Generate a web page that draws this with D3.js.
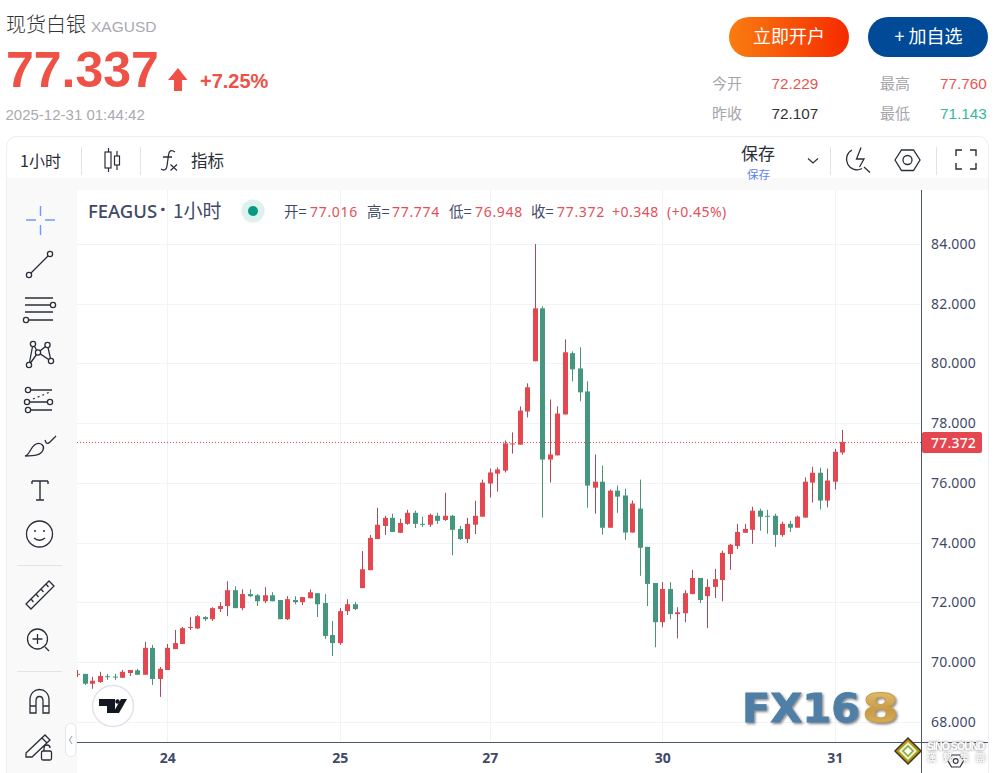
<!DOCTYPE html>
<html><head><meta charset="utf-8">
<script src="https://cdn.jsdelivr.net/npm/d3@7/dist/d3.min.js"></script>
<style>html,body{margin:0;padding:0;background:#fff;overflow:hidden}svg{display:block}
text{font-family:"Liberation Sans","Noto Sans CJK SC",sans-serif}</style></head><body>
<svg id="c" width="995" height="773"></svg>
<script>
const opens=[69.59,69.61,69.28,69.34,69.53,69.52,69.48,69.64,69.73,69.58,70.48,69.44,69.74,70.44,70.61,71.15,71.13,71.51,71.44,71.78,71.88,72.41,71.81,72.28,72.24,72.04,72.24,72.08,71.44,72.08,72.01,72.14,72.31,71.98,70.91,70.64,71.71,71.94,72.48,73.08,74.12,74.56,74.83,74.33,74.63,75.0,74.63,74.6,74.9,74.76,74.9,74.46,74.12,74.6,74.87,75.98,76.31,76.41,77.30,77.28,78.39,80.07,81.84,76.78,76.92,78.29,80.34,79.83,79.06,75.84,76.04,74.5,75.74,75.58,74.34,75.14,73.86,72.65,71.34,72.45,71.61,71.64,72.28,72.82,72.21,72.52,72.75,73.62,73.89,74.33,74.43,75.07,74.9,74.9,74.26,74.63,74.5,74.84,76.01,76.34,75.41,76.04,77.016];
const highs=[69.74,69.61,69.51,69.68,69.61,69.61,69.74,69.74,69.78,70.68,70.58,69.84,70.61,71.08,71.18,71.51,71.58,71.54,71.84,72.01,72.71,72.54,72.44,72.44,72.28,72.51,72.34,72.08,72.21,72.21,72.18,72.44,72.31,72.28,71.38,71.81,72.11,72.01,73.72,74.26,75.17,74.9,74.97,74.8,75.1,75.07,74.87,74.97,75.0,75.67,74.93,74.56,74.83,75.4,76.11,76.48,76.52,77.42,77.69,78.56,79.33,83.99,81.91,78.79,78.56,80.8,80.4,80.54,79.4,76.95,76.58,75.78,75.91,75.81,75.41,76.11,73.86,72.65,72.68,72.68,71.84,72.41,73.09,72.82,72.78,73.12,73.73,73.96,74.63,74.63,75.2,75.14,75.1,74.97,74.7,74.73,74.9,76.18,76.54,76.51,76.48,77.14,77.774];
const lows=[69.5,69.24,69.11,69.31,69.41,69.41,69.48,69.54,69.58,69.58,69.24,68.84,69.74,70.44,70.61,71.08,71.11,71.38,71.38,71.68,71.54,71.81,71.74,72.18,71.88,71.98,72.04,71.44,71.41,71.94,71.91,72.14,71.51,70.78,70.21,70.58,71.58,71.74,72.48,73.08,74.12,74.26,74.36,74.33,74.6,74.49,74.53,74.53,74.63,74.73,73.58,74.09,73.99,74.29,74.87,75.51,75.71,76.35,76.98,77.28,78.19,80.07,74.84,76.01,76.92,78.29,79.4,78.73,75.17,74.97,74.27,74.5,75.0,74.1,74.34,72.89,71.88,70.5,71.17,71.44,70.8,71.34,72.28,71.98,71.14,72.15,72.04,73.09,73.79,74.33,73.96,74.4,74.3,73.86,74.2,74.36,74.5,74.84,75.34,75.11,75.18,75.78,76.948];
const closes=[69.61,69.28,69.38,69.54,69.51,69.5,69.68,69.74,69.58,70.48,69.44,69.78,70.48,70.64,71.14,71.18,71.54,71.44,71.81,71.88,72.41,71.81,72.28,72.21,72.04,72.24,72.04,71.44,72.11,72.01,72.18,72.34,71.94,70.88,70.64,71.71,71.94,71.78,73.11,74.16,74.6,74.83,74.36,74.66,75.0,74.63,74.6,74.93,74.73,74.9,74.43,74.12,74.63,74.9,76.01,76.35,76.45,77.32,77.32,78.42,79.2,81.84,76.78,76.95,78.32,80.37,79.8,79.03,75.91,76.04,74.5,75.74,75.54,74.34,75.31,73.83,72.62,71.34,72.45,71.61,71.67,72.31,72.82,72.08,72.52,72.78,73.66,73.93,74.36,74.46,75.07,74.87,74.87,74.26,74.63,74.5,74.87,76.04,76.34,75.41,76.08,77.04,77.372];
const priceTicks=[68,70,72,74,76,78,80,82,84];
const dateTickIndex=[12,35,55,78,101];
const dateTickLabels=["24","25","27","30","31"];
const lastPrice=77.372;
const legendPairs=[["开=","77.016",284,310],["高=","77.774",367,392],["低=","76.948",449,475],["收=","77.372",531,557]];
const statRows=[["今开","72.229","#ea5550","最高","77.760","#ea5550"],["昨收","72.107","#333333","最低","71.143","#35b89b"]];

const svg=d3.select("#c");
const CJK='"Noto Sans CJK SC",sans-serif', NS='"Noto Sans","Noto Sans CJK SC",sans-serif';
const RED="#e4474f",GRN="#45967f",RW="#ab4c58",GW="#4c9470",INK="#2a2e39",SLATE="#3f4a68";
function T(x,y,s,size,fill,o={}){const t=svg.append("text").attr("x",x).attr("y",y).attr("font-size",size).attr("fill",fill).text(s);
 if(o.font)t.style("font-family",o.font);if(o.weight)t.attr("font-weight",o.weight);if(o.anchor)t.attr("text-anchor",o.anchor);if(o.ls)t.attr("letter-spacing",o.ls);return t;}
function P(d,stroke=INK,sw=1.3,fill="none"){return svg.append("path").attr("d",d).attr("stroke",stroke).attr("stroke-width",sw).attr("fill",fill);}
function C(x,y,r,stroke=INK,sw=1.3,fill="#fff"){return svg.append("circle").attr("cx",x).attr("cy",y).attr("r",r).attr("stroke",stroke).attr("stroke-width",sw).attr("fill",fill);}
const defs=svg.append("defs");
const g1=defs.append("linearGradient").attr("id","ob");g1.append("stop").attr("offset",0).attr("stop-color","#f97d10");g1.append("stop").attr("offset",1).attr("stop-color","#f62a00");
const g2=defs.append("linearGradient").attr("id","au").attr("x1",0).attr("x2",0).attr("y1",0).attr("y2",1);
g2.append("stop").attr("offset",0).attr("stop-color","#e6c77c");g2.append("stop").attr("offset",.55).attr("stop-color","#c89a45");g2.append("stop").attr("offset",1).attr("stop-color","#dcb868");
defs.append("filter").attr("id","sh").append("feDropShadow").attr("dx",1.5).attr("dy",1.5).attr("stdDeviation",1.2).attr("flood-color","#333").attr("flood-opacity",.6);
defs.append("filter").attr("id","sg").append("feDropShadow").attr("dx",0).attr("dy",0).attr("stdDeviation",1.6).attr("flood-color","#666").attr("flood-opacity",1);
defs.append("clipPath").attr("id","pane").append("rect").attr("x",77).attr("y",190).attr("width",844).attr("height",552);

// header
T(6,32,"现货白银",20,"#333",{font:CJK,weight:300});
T(91,32,"XAGUSD",15.5,"#a9a9b0");
T(6,87,"77.337",50,"#ee5145",{weight:700});
P("M178 68L187.5 80H182V91H174V80H168Z","none",0,"#ee5145");
T(200,88,"+7.25%",20,"#ee5145",{weight:700});
T(5.5,120,"2025-12-31 01:44:42",15,"#aaaab0");
svg.append("rect").attr("x",729).attr("y",17).attr("width",120).attr("height",40).attr("rx",20).attr("fill","url(#ob)");
T(789,43,"立即开户",18,"#fff",{font:CJK,anchor:"middle"});
svg.append("rect").attr("x",868).attr("y",17).attr("width",120).attr("height",40).attr("rx",20).attr("fill","#004a97");
T(928.5,43,"+ 加自选",18,"#fff",{font:CJK,anchor:"middle"});
statRows.forEach((r,i)=>{const y=89+i*30;
 T(712,y,r[0],15,"#a5a5ab",{font:CJK});T(771.5,y,r[1],15.3,r[2]);
 T(880,y,r[3],15,"#a5a5ab",{font:CJK});T(940,y,r[4],15.3,r[5]);});

// frame + top toolbar
svg.append("rect").attr("x",6.5).attr("y",136.5).attr("width",982).attr("height",660).attr("rx",10).attr("fill","#fff").attr("stroke","#eceef2");
svg.append("rect").attr("x",7).attr("y",178).attr("width",981).attr("height",12).attr("fill","#f9f9fa");
svg.append("rect").attr("x",7).attr("y",178).attr("width",70).attr("height",595).attr("fill","#f9f9fa");
T(20,167,"1小时",16,INK,{font:CJK});
[81,140,830,936].forEach(x=>svg.append("line").attr("x1",x+.5).attr("x2",x+.5).attr("y1",147).attr("y2",175).attr("stroke","#e0e3eb"));
P("M108.5 148V172M117 151V170",INK,1.2);
svg.append("rect").attr("x",105).attr("y",152).attr("width",6).attr("height",16).attr("fill","#fff").attr("stroke",INK).attr("stroke-width",1.2);
svg.append("rect").attr("x",114.5).attr("y",156).attr("width",5).attr("height",9).attr("fill","#fff").attr("stroke",INK).attr("stroke-width",1.2);
P("M175 152C171 149 169 151 168.5 155L167 166C166.5 170 164 171 161 169M163 157H172",INK,1.3);
P("M170.5 164.5L177 170.5M177 164.5L170.5 170.5",INK,1.2);
T(191,167,"指标",16.5,INK,{font:CJK});
T(741,160,"保存",17,INK,{font:CJK});
T(747,178.5,"保存",11.5,"#5b82f0",{font:CJK});
P("M808 158.5L813 163L818 158.5",INK,1.2);
P("M862 168.5A10.5 10.5 0 1 1 852 150",INK,1.3);
P("M861 147.5L856.5 159H864L859.5 167",INK,1.3);P("M864 167L870 172.5",INK,1.3);
P("M895 160L901.5 150H913.5L920 160L913.5 170.5H901.5Z",INK,1.3);C(907.5,160,4.5,INK,1.3);
P("M956 156V150H962M970 150H976V156M976 163V169H970M962 169H956V163",INK,1.4);

// chart geometry
const PL=77,PR=921,AX=742,PT=190;
const x=d3.scaleLinear().domain([0,101]).range([77.3,834.8]);
const y=d3.scaleLinear().domain([68,84]).range([722,243.8]);
const gGrid=svg.append("g");
gGrid.selectAll(".h").data(priceTicks).join("line").attr("x1",PL).attr("x2",PR).attr("y1",d=>Math.round(y(d))+.5).attr("y2",d=>Math.round(y(d))+.5).attr("stroke","#f2f3f5");
gGrid.selectAll(".v").data(dateTickIndex).join("line").attr("x1",d=>Math.round(x(d))+.5).attr("x2",d=>Math.round(x(d))+.5).attr("y1",PT).attr("y2",AX).attr("stroke","#f2f3f5");

// watermark
const wm=svg.append("g").attr("filter","url(#sh)");
wm.append("text").attr("x",742).attr("y",721.5).attr("font-size",39).attr("font-weight",700).attr("fill","#4f7fa6").attr("stroke","#4f7fa6").attr("stroke-width",.8).attr("textLength",118).attr("lengthAdjust","spacingAndGlyphs").style("font-family","'DejaVu Sans',sans-serif").text("FX16");
wm.append("text").attr("x",862).attr("y",721.5).attr("font-size",39).attr("font-weight",700).attr("fill","url(#au)").attr("stroke","#c89a45").attr("stroke-width",.8).attr("textLength",37).attr("lengthAdjust","spacingAndGlyphs").style("font-family","'DejaVu Sans',sans-serif").text("8");

// candles
const idx=d3.range(opens.length);
const up=i=>closes[i]>=opens[i];
const gc=svg.append("g").attr("clip-path","url(#pane)");
gc.append("g").selectAll("line").data(idx).join("line")
 .attr("x1",i=>Math.round(x(i))+.5).attr("x2",i=>Math.round(x(i))+.5)
 .attr("y1",i=>y(highs[i])).attr("y2",i=>y(lows[i]))
 .attr("stroke",i=>up(i)?RW:GW).attr("stroke-width",1);
gc.append("g").selectAll("rect").data(idx).join("rect")
 .attr("x",i=>Math.round(x(i))-2).attr("width",5)
 .attr("y",i=>y(Math.max(opens[i],closes[i])))
 .attr("height",i=>Math.max(1,Math.abs(y(opens[i])-y(closes[i]))))
 .attr("fill",i=>up(i)?RED:GRN);

// last price line
svg.append("line").attr("x1",PL).attr("x2",PR).attr("y1",Math.round(y(lastPrice))+.5).attr("y2",Math.round(y(lastPrice))+.5).attr("stroke",RED).attr("stroke-dasharray","1 2");

// hexagon behind the badge, then axes
P("M948 761L951.5 755H960L963.5 761L960 767H951.5Z",INK,1.2);C(955.7,761,2.4,INK,1.1);
const ay=svg.append("g").attr("transform",`translate(${PR},0)`).call(d3.axisRight(y).tickValues(priceTicks).tickFormat(d3.format(".3f")).tickSize(0).tickPadding(10));
ay.select(".domain").attr("d",`M0.5 ${PT}V773`).attr("stroke","#4a5578");
ay.selectAll("text").attr("font-size",14).attr("letter-spacing",.2).attr("fill",SLATE).style("font-family",NS);
const ax=svg.append("g").attr("transform",`translate(0,${AX})`).call(d3.axisBottom(x).tickValues(dateTickIndex).tickFormat((d,i)=>dateTickLabels[i]).tickSize(0).tickPadding(11));
ax.select(".domain").attr("d",`M${PL} 0.5H988`).attr("stroke","#4a5578");
ax.selectAll("text").attr("font-size",14).attr("font-weight",700).attr("fill",SLATE).style("font-family",NS);

svg.append("rect").attr("x",922).attr("y",432).attr("width",60).attr("height",21).attr("rx",2).attr("fill",RED);
T(931,448,d3.format(".3f")(lastPrice),14,"#fff",{font:NS,weight:500,ls:.2});

// legend
T(88,218,"FEAGUS",18.5,SLATE,{font:NS,weight:500});
T(160,216,"·",20,SLATE,{font:NS,weight:700});
T(173,218,"1小时",19,SLATE,{font:CJK});
C(253,211,11.5,"none",0,"#dff1ed");C(253,211,5,"none",0,"#089981");
legendPairs.forEach(d=>{T(d[2],217,d[0],14.5,SLATE,{font:CJK});T(d[3],217,d[1],14,"#e4505a",{font:NS,ls:.7});});
T(612,217,"+0.348",14,"#e4505a",{font:NS,ls:.5});
T(667,217,"(+0.45%)",14,"#e4505a",{font:NS,ls:.5});

// left toolbar icons
P("M26 220H36M45 220H55M40.5 206V216M40.5 225V235","#6a9bff",1.4);
P("M31 273L48 256");C(29,275,2.6);C(50,254,2.6);
P("M25 298H53M25 305H50M25 312H53M29 320H53");C(53,305,2.6);C(26,320,2.6);
P("M33 344L29 365L38 352.5L51 361L47.5 345L38 352.5L33 344M29 365L38 352.5");[[33,344],[47.5,345],[38,352.5],[29,365],[51,361]].forEach(p=>C(p[0],p[1],2.6));
P("M31 390H52M30 410H52M30 402H47");P("M33 399L50 392",INK,1.2).attr("stroke-dasharray","2 3");[[28,390],[27,402],[50,402],[28,410]].forEach(p=>C(p[0],p[1],2.6));
P("M25 456C30 455 30 447 36 444C41 442 45 446 43 450C41 455 35 456 25 456ZM45 440C46 444 48 444 50 442L56 436");
P("M32 481H48M40 481V500M36 500H44M32 481V484M48 481V484",INK,1.4);
C(39.5,534,13,INK,1.3);C(35,531,1,"none",0,INK);C(44,531,1,"none",0,INK);P("M34 538C37 541 42 541 45 538");
P("M26 604L49 581L54 586L31 609ZM31 599L33.5 602M36 594L38.5 597M41 589L43.5 592M46 584L48.5 587");
C(37.5,639,10);P("M37.5 634V644M32.5 639H42.5M45 647L49 651");
P("M30 713V700C30 686 49 686 49 700V713H43V701C43 695 36 695 36 701V713ZM30 706H36M43 706H49");
P("M26 753L45 735L50 740L32 757L26 757ZM42 738L47 743");svg.append("rect").attr("x",41.5).attr("y",751).attr("width",10).attr("height",9).attr("rx",1.5).attr("fill","none").attr("stroke",INK).attr("stroke-width",1.3);P("M44 751V748C44 744 50 744 50 748");
[565,671].forEach(v=>svg.append("line").attr("x1",17).attr("x2",62).attr("y1",v+.5).attr("y2",v+.5).attr("stroke","#e0e3eb"));
svg.append("rect").attr("x",65.5).attr("y",723.5).attr("width",10.5).attr("height",33).attr("rx",5).attr("fill","#fff").attr("stroke","#e4e6ec");
P("M72 736L69.5 740L72 744","#a8adb8",1.2);

// TradingView badge
C(113,706,20.5,"#e0e3eb",1.5,"#fff");
P("M99 699H115V713H107V706H99Z","none",0,"#131722");
C(117.5,701.5,2.2,"none",0,"#131722");
P("M121 699H127L119 713H113Z","none",0,"#131722");

// badge
P("M908 738L921 751L908 764L895 751Z","#3a3a22",1.5,"#b5970f");
P("M908 742L917 751L908 760L899 751Z","none",0,"#f1efdc");
P("M908 746L913 751L908 756L903 751Z","#7fb03a",1.6,"#fff");
const sino=svg.append("g").attr("filter","url(#sg)");
sino.append("text").attr("x",927).attr("y",750).attr("font-size",10.5).attr("font-weight",700).attr("fill","#fff").attr("textLength",58).text("SINO SOUND");
sino.append("text").attr("x",927).attr("y",761).attr("font-size",9).attr("fill","#fff").attr("textLength",58).style("font-family",CJK).text("漢聲集團");
</script></body></html>
